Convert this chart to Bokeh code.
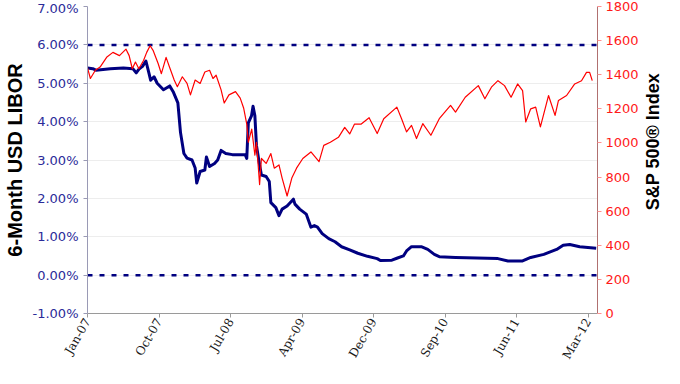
import math
import pandas as pd
from bokeh.plotting import figure
from bokeh.layouts import row
from bokeh.models import (Range1d, LinearAxis, FixedTicker, SingleIntervalTicker,
                          DatetimeTickFormatter, PrintfTickFormatter)
from bokeh.core.properties import value
from bokeh.embed import file_html
from bokeh.resources import INLINE

# 6-Month USD LIBOR (%)
libor_dates = [
    "2007-01-03", "2007-01-23", "2007-02-04", "2007-03-31", "2007-05-20", "2007-06-25",
    "2007-07-08", "2007-07-20", "2007-08-01", "2007-08-14", "2007-08-26", "2007-09-01",
    "2007-09-14", "2007-09-26", "2007-10-20", "2007-11-13", "2007-11-26", "2007-12-14",
    "2007-12-24", "2008-01-06", "2008-01-18", "2008-02-06", "2008-02-18", "2008-02-24",
    "2008-03-08", "2008-03-26", "2008-04-01", "2008-04-13", "2008-05-02", "2008-05-14",
    "2008-05-27", "2008-06-14", "2008-07-09", "2008-08-27", "2008-09-02", "2008-09-08",
    "2008-09-20", "2008-09-26", "2008-10-03", "2008-10-09", "2008-10-21", "2008-10-28",
    "2008-11-15", "2008-11-27", "2008-12-03", "2008-12-22", "2009-01-03", "2009-01-15",
    "2009-02-03", "2009-02-27", "2009-03-05", "2009-03-23", "2009-04-17", "2009-05-05",
    "2009-05-18", "2009-05-30", "2009-06-17", "2009-07-12", "2009-08-05", "2009-08-30",
    "2009-09-30", "2009-10-31", "2009-12-07", "2010-01-13", "2010-01-25", "2010-03-10",
    "2010-03-29", "2010-04-23", "2010-05-05", "2010-05-24", "2010-06-30", "2010-07-25",
    "2010-08-19", "2010-09-07", "2010-11-08", "2011-04-19", "2011-05-27", "2011-07-22",
    "2011-08-22", "2011-10-11", "2011-11-29", "2011-12-24", "2012-01-18", "2012-02-25",
    "2012-04-28",
]
libor_pct = [
    5.40, 5.38, 5.34, 5.38, 5.40, 5.38,
    5.27, 5.38, 5.44, 5.58, 5.25, 5.08,
    5.17, 5.00, 4.83, 4.93, 4.78, 4.49,
    3.72, 3.17, 3.05, 3.00, 2.79, 2.40,
    2.70, 2.74, 3.08, 2.83, 2.91, 3.00,
    3.25, 3.17, 3.14, 3.14, 3.04, 3.97,
    4.15, 4.40, 4.15, 3.38, 2.87, 2.61,
    2.57, 2.44, 1.89, 1.76, 1.55, 1.72,
    1.80, 1.98, 1.85, 1.72, 1.59, 1.25,
    1.29, 1.25, 1.08, 0.95, 0.87, 0.74,
    0.66, 0.57, 0.49, 0.43, 0.38, 0.39,
    0.44, 0.50, 0.63, 0.74, 0.74, 0.67,
    0.54, 0.48, 0.46, 0.43, 0.37, 0.37,
    0.46, 0.54, 0.67, 0.78, 0.80, 0.74,
    0.70,
]

# S&P 500 Index
spx_dates = [
    "2007-01-03", "2007-01-14", "2007-02-02", "2007-02-20", "2007-03-17", "2007-04-10",
    "2007-05-05", "2007-05-30", "2007-06-11", "2007-06-23", "2007-07-05", "2007-07-18",
    "2007-08-05", "2007-08-17", "2007-08-30", "2007-09-11", "2007-09-30", "2007-10-12",
    "2007-10-30", "2007-11-12", "2007-11-30", "2007-12-12", "2007-12-31", "2008-01-18",
    "2008-01-31", "2008-02-18", "2008-03-08", "2008-03-26", "2008-04-13", "2008-04-26",
    "2008-05-08", "2008-05-27", "2008-06-08", "2008-06-26", "2008-07-21", "2008-08-08",
    "2008-08-21", "2008-09-02", "2008-09-08", "2008-09-21", "2008-10-03", "2008-10-09",
    "2008-10-21", "2008-10-28", "2008-11-15", "2008-12-03", "2008-12-16", "2009-01-03",
    "2009-01-15", "2009-02-03", "2009-02-21", "2009-03-11", "2009-04-04", "2009-05-05",
    "2009-06-05", "2009-06-23", "2009-07-18", "2009-08-18", "2009-09-11", "2009-09-30",
    "2009-10-18", "2009-11-12", "2009-12-13", "2010-01-13", "2010-02-07", "2010-03-29",
    "2010-04-16", "2010-05-05", "2010-05-24", "2010-06-12", "2010-07-06", "2010-08-06",
    "2010-09-07", "2010-10-20", "2010-11-08", "2010-12-15", "2011-02-03", "2011-02-28",
    "2011-03-25", "2011-04-19", "2011-05-14", "2011-06-08", "2011-07-03", "2011-07-22",
    "2011-08-03", "2011-08-22", "2011-09-10", "2011-09-28", "2011-10-29", "2011-11-23",
    "2011-12-06", "2012-01-06", "2012-02-06", "2012-03-03", "2012-03-22", "2012-04-03",
    "2012-04-13",
]
spx_vals = [
    1440, 1378, 1426, 1445, 1502, 1531,
    1512, 1550, 1512, 1435, 1474, 1435,
    1483, 1531, 1570, 1541, 1464, 1406,
    1502, 1445, 1369, 1330, 1388, 1349,
    1282, 1369, 1349, 1416, 1426, 1378,
    1397, 1311, 1234, 1282, 1301, 1263,
    1205, 1110, 1004, 1081, 928, 1004,
    756, 909, 880, 938, 852, 871,
    794, 689, 794, 852, 909, 947,
    890, 986, 1004, 1033, 1091, 1053,
    1110, 1110, 1148, 1055, 1142, 1210,
    1142, 1065, 1103, 1026, 1113, 1045,
    1142, 1220, 1181, 1268, 1336, 1259,
    1327, 1365, 1336, 1268, 1346, 1307,
    1123, 1200, 1210, 1094, 1278, 1162,
    1249, 1278, 1346, 1365, 1414, 1414,
    1365,
]

tick_dates = ["2007-01-03", "2007-10-03", "2008-07-03", "2009-04-01",
              "2009-12-30", "2010-09-29", "2011-06-29", "2012-03-28"]
ref_levels = [6.0, 0.0]
ref_dates = ["2007-01-03", "2012-04-30"]
x_limits = ["2007-01-03", "2012-05-03"]
left_limits = [-1, 7]
right_limits = [0, 1800]
left_title = "6-Month USD LIBOR"
right_title = "S&P 500\u00ae Index"


def ms(d):
    return pd.Timestamp(d).value / 1e6


p = figure(width=641, height=368, x_axis_type="datetime",
           output_backend="svg", toolbar_location=None,
           x_range=Range1d(ms(x_limits[0]), ms(x_limits[1])),
           y_range=Range1d(left_limits[0], left_limits[1]),
           min_border_left=76, min_border_right=38,
           min_border_top=6, min_border_bottom=50)
p.extra_y_ranges = {"spx": Range1d(right_limits[0], right_limits[1])}
p.outline_line_color = None
p.background_fill_color = "white"
p.border_fill_color = "white"

p.xgrid.grid_line_color = None
p.ygrid.grid_line_color = "#ededed"
p.ygrid.grid_line_width = 1

# reference dashed lines
for lvl in ref_levels:
    p.line([pd.Timestamp(d) for d in ref_dates], [lvl, lvl],
           line_color="#000080", line_width=2.5, line_dash="5 7")

p.line([pd.Timestamp(d) for d in libor_dates], libor_pct,
       line_color="#000080", line_width=3, line_join="round")
p.line([pd.Timestamp(d) for d in spx_dates], spx_vals, y_range_name="spx",
       line_color="#ff0000", line_width=1.2, line_join="round")

# x axis
xa = p.xaxis[0]
xa.ticker = FixedTicker(ticks=[ms(d) for d in tick_dates])
fmt = "%b-%y"
xa.formatter = DatetimeTickFormatter(
    microseconds=fmt, milliseconds=fmt, seconds=fmt, minsec=fmt, minutes=fmt,
    hourmin=fmt, hours=fmt, days=fmt, months=fmt, years=fmt)
xa.major_label_orientation = math.pi / 3
xa.major_label_text_font = "DejaVu Serif"
xa.major_label_text_font_size = "12px"
xa.major_label_text_color = "#1a1a1a"
xa.major_label_standoff = 2
xa.axis_line_color = "#9a9a9a"
xa.major_tick_line_color = "#9a9a9a"
xa.major_tick_out = 4
xa.major_tick_in = 0
xa.minor_tick_line_color = None

# left axis
ya = p.yaxis[0]
ya.ticker = SingleIntervalTicker(interval=1)
ya.formatter = PrintfTickFormatter(format="%.2f%%")
ya.major_label_text_font = "DejaVu Sans"
ya.major_label_text_font_size = "13px"
ya.major_label_text_color = "#2b2b99"
ya.major_label_standoff = 5
ya.axis_line_color = "#9a9ab5"
ya.major_tick_line_color = "#9a9ab5"
ya.major_tick_out = 4
ya.major_tick_in = 0
ya.minor_tick_line_color = None
ya.axis_label = left_title
ya.axis_label_text_font = "Liberation Sans"
ya.axis_label_text_font_style = "bold"
ya.axis_label_text_font_size = "20px"
ya.axis_label_text_color = "black"
ya.axis_label_standoff = 4

# right axis
ra = LinearAxis(y_range_name="spx", ticker=SingleIntervalTicker(interval=200))
ra.major_label_text_font = "DejaVu Sans"
ra.major_label_text_font_size = "13px"
ra.major_label_text_color = "#ff1a1a"
ra.major_label_standoff = 4
ra.axis_line_color = "#b07070"
ra.major_tick_line_color = "#ff9090"
ra.major_tick_out = 4
ra.major_tick_in = 0
ra.minor_tick_line_color = None
p.add_layout(ra, "right")

# right-hand title, reading bottom to top, in a narrow strip
t = figure(width=23, height=368, output_backend="svg", toolbar_location=None,
           x_range=Range1d(0, 1), y_range=Range1d(0, 1),
           min_border_left=0, min_border_right=0, min_border_top=0,
           min_border_bottom=0)
t.axis.visible = False
t.grid.grid_line_color = None
t.outline_line_color = None
t.background_fill_color = "white"
t.border_fill_color = "white"
t.text(x=[0.5], y=[0.56], text=[right_title], angle=math.pi / 2,
       text_align="center", text_baseline="middle",
       text_font=value("Liberation Sans"), text_font_style="bold",
       text_font_size="18px", text_color="black")

layout = row(p, t, spacing=0)
open("out.html", "w").write(file_html(layout, INLINE))
